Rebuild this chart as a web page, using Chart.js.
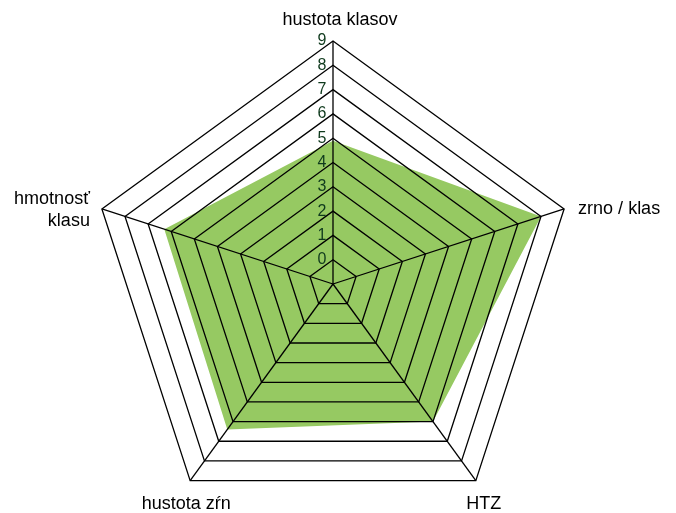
<!DOCTYPE html>
<html>
<head>
<meta charset="utf-8">
<script src="https://cdn.jsdelivr.net/npm/chart.js@4.4.1/dist/chart.umd.min.js"></script>
<style>
  html, body { margin: 0; padding: 0; background: #ffffff; }
  #wrap { width: 676px; height: 513px; }
</style>
</head>
<body>
<div id="wrap"><canvas id="radar" width="676" height="513"></canvas></div>
<script>
// categories clockwise from the top, multi-line ones as arrays
const categories = [['hustota klasov'], ['zrno / klas'], ['HTZ'], ['hustota zŕn'], ['hmotnosť', 'klasu']];
const values = [4.9, 8.0, 6.0, 6.4, 6.3];
const tickLabels = ['0', '1', '2', '3', '4', '5', '6', '7', '8', '9'];
const axisMin = -1;

// where each axis title sits relative to the outer vertex
const labelPlacement = [
  { align: 'center', dx: 7, dy: -21 },
  { align: 'left', dx: 14, dy: 0 },
  { align: 'center', dx: 8, dy: 23 },
  { align: 'center', dx: -4, dy: 23 },
  { align: 'right', dx: -12, dy: -10 }
];

const axisTitles = {
  id: 'axisTitles',
  afterDraw(chart) {
    const r = chart.scales.r;
    const ctx = chart.ctx;
    ctx.save();
    ctx.font = '18px "Liberation Sans", Arial, sans-serif';
    ctx.fillStyle = '#000000';
    ctx.textBaseline = 'middle';
    categories.forEach((lines, i) => {
      const p = r.getPointPosition(i, r.drawingArea);
      const pl = labelPlacement[i];
      ctx.textAlign = pl.align;
      lines.forEach((txt, j) => {
        ctx.fillText(txt, p.x + pl.dx, p.y + pl.dy + j * 22);
      });
    });
    ctx.restore();
  }
};

const ctx = document.getElementById('radar').getContext('2d');
new Chart(ctx, {
  type: 'radar',
  data: {
    labels: categories.map(c => c.join(' ')),
    datasets: [{
      data: values,
      backgroundColor: '#96c962',
      borderWidth: 0,
      pointRadius: 0,
      fill: 'start'
    }]
  },
  options: {
    responsive: false,
    animation: false,
    devicePixelRatio: 1,
    layout: { padding: { left: 82, right: 91, top: 33, bottom: 0 } },
    plugins: { legend: { display: false }, tooltip: { enabled: false } },
    scales: {
      r: {
        min: axisMin,
        max: tickLabels.length - 1,
        // width decides the radius, the pentagon hangs below the top padding
        afterFit: scale => {
          scale.drawingArea = Math.floor(scale.width / 2);
          scale.yCenter = scale.top + scale.drawingArea + 8;
        },
        grid: { color: '#000000', lineWidth: 1.3, circular: false, z: 1 },
        angleLines: { color: '#000000', lineWidth: 1.3 },
        pointLabels: { display: false },
        ticks: {
          z: 2,
          stepSize: 1,
          showLabelBackdrop: false,
          backdropPadding: 0,
          color: '#0f3a1d',
          font: { family: '"Liberation Sans", Arial, sans-serif', size: 16 },
          callback: v => (v < 0 ? '' : tickLabels[v] + '     ')
        }
      }
    }
  },
  plugins: [axisTitles]
});
</script>
</body>
</html>
